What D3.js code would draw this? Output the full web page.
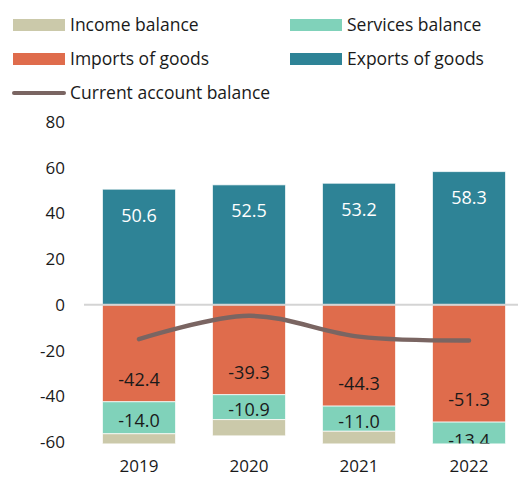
<!DOCTYPE html>
<html>
<head>
<meta charset="utf-8">
<script src="https://cdn.jsdelivr.net/npm/d3@7"></script>
<style>
  body { margin: 0; background: #fff; }
  svg { display: block; font-family: "Open Sans", sans-serif; }
</style>
</head>
<body>
<div class="canvas"></div>
<script>
// chart data
const years = ['2019', '2020', '2021', '2022'];
const exportsGoods = [50.6, 52.5, 53.2, 58.3];
const importsGoods = [-42.4, -39.3, -44.3, -51.3];
const servicesBal = [-14.0, -10.9, -11.0, -13.4];
const incomeBal = [-9.2, -7.1, -11.8, -9.2];
const currentAcc = [-15.0, -4.8, -13.9, -15.6];
const yTicks = [80, 60, 40, 20, 0, -20, -40, -60];

const dims = { width: 518, height: 477 };
const plot = { left: 84, right: 524, top: 122, bottom: 442 };

const svg = d3.select('.canvas')
    .append('svg')
    .attr('width', dims.width)
    .attr('height', dims.height);

const x = d3.scaleBand()
    .domain(years)
    .range([plot.left, plot.right])
    .paddingInner(0.336)
    .paddingOuter(0.168);

const y = d3.scaleLinear()
    .domain([-60, 80])
    .range([plot.bottom, plot.top]);

// series stacked away from zero, in drawing order
const series = [
    { name: 'Exports of goods', vals: exportsGoods, color: '#2e8396', text: '#ffffff', pos: 'topIn' },
    { name: 'Imports of goods', vals: importsGoods, color: '#df6c4c', text: '#1a1a1a', pos: 'bottomIn' },
    { name: 'Services balance', vals: servicesBal, color: '#80d2ba', text: '#1a1a1a', pos: 'mid' },
    { name: 'Income balance', vals: incomeBal, color: '#cbc9aa', text: null, pos: null }
];

// compute stacked segments
const segs = [];
years.forEach((yr, i) => {
    let posBase = 0, negBase = 0;
    series.forEach(s => {
        const v = s.vals[i];
        let y0, y1;
        if (v >= 0) { y0 = posBase; y1 = posBase + v; posBase = y1; }
        else { y0 = negBase; y1 = negBase + v; negBase = y1; }
        segs.push({ yr, v, y0, y1, s });
    });
});

svg.append('clipPath').attr('id', 'plotClip')
  .append('rect')
    .attr('x', 0).attr('y', 0)
    .attr('width', dims.width)
    .attr('height', plot.bottom + 1.5);

const graph = svg.append('g').attr('clip-path', 'url(#plotClip)');

// y tick labels
svg.append('g')
  .selectAll('text')
  .data(yTicks)
  .join('text')
    .attr('x', 65)
    .attr('y', d => y(d))
    .attr('dy', '0.35em')
    .attr('text-anchor', 'end')
    .attr('font-size', 17)
    .attr('fill', '#1a1a1a')
    .text(d => d);

// bars
graph.selectAll('rect.seg')
  .data(segs)
  .join('rect')
    .attr('class', 'seg')
    .attr('x', d => x(d.yr))
    .attr('width', x.bandwidth())
    .attr('y', d => y(Math.max(d.y0, d.y1)))
    .attr('height', d => Math.abs(y(d.y0) - y(d.y1)))
    .attr('fill', d => d.s.color)
    .attr('stroke', 'rgba(255,255,255,0.7)')
    .attr('stroke-width', 1);

// zero line
svg.append('line')
    .attr('x1', plot.left).attr('x2', dims.width)
    .attr('y1', y(0)).attr('y2', y(0))
    .attr('stroke', '#d4d4d4')
    .attr('stroke-width', 2);

// current account line
const line = d3.line()
    .x((d, i) => x(years[i]) + x.bandwidth() / 2)
    .y(d => y(d))
    .curve(d3.curveCatmullRom.alpha(0.5));

graph.append('path')
    .datum(currentAcc)
    .attr('d', line)
    .attr('fill', 'none')
    .attr('stroke', '#7a6562')
    .attr('stroke-width', 4.5)
    .attr('stroke-linecap', 'round');

// data labels
graph.selectAll('text.lbl')
  .data(segs.filter(d => d.s.pos))
  .join('text')
    .attr('class', 'lbl')
    .attr('x', d => x(d.yr) + x.bandwidth() / 2)
    .attr('y', d => {
        if (d.s.pos === 'topIn') return y(d.y1) + 26;
        if (d.s.pos === 'bottomIn') return y(d.y1) - 22;
        return y((d.y0 + d.y1) / 2) + 3;
    })
    .attr('dy', '0.35em')
    .attr('text-anchor', 'middle')
    .attr('font-size', 18)
    .attr('fill', d => d.s.text)
    .text(d => d.v.toFixed(1));

// x labels
svg.append('g')
  .selectAll('text')
  .data(years)
  .join('text')
    .attr('x', d => x(d) + x.bandwidth() / 2)
    .attr('y', 466)
    .attr('dy', '0.35em')
    .attr('text-anchor', 'middle')
    .attr('font-size', 17)
    .attr('fill', '#1a1a1a')
    .text(d => d);

// legend
const legendItems = [
    { name: 'Income balance', color: '#cbc9aa', type: 'box', col: 0, row: 0 },
    { name: 'Services balance', color: '#80d2ba', type: 'box', col: 1, row: 0 },
    { name: 'Imports of goods', color: '#df6c4c', type: 'box', col: 0, row: 1 },
    { name: 'Exports of goods', color: '#2e8396', type: 'box', col: 1, row: 1 },
    { name: 'Current account balance', color: '#7a6562', type: 'line', col: 0, row: 2 }
];

const leg = svg.append('g')
  .selectAll('g')
  .data(legendItems)
  .join('g')
    .attr('transform', d => `translate(${13 + d.col * 277}, ${25 + d.row * 34})`);

leg.filter(d => d.type === 'box').append('rect')
    .attr('x', 0).attr('y', -6)
    .attr('width', 52).attr('height', 12)
    .attr('fill', d => d.color);

leg.filter(d => d.type === 'line').append('line')
    .attr('x1', 1).attr('x2', 51)
    .attr('y1', 0).attr('y2', 0)
    .attr('stroke', d => d.color)
    .attr('stroke-width', 4)
    .attr('stroke-linecap', 'round');

leg.append('text')
    .attr('x', 57)
    .attr('dy', '0.35em')
    .attr('font-size', 17.5)
    .attr('fill', '#1a1a1a')
    .text(d => d.name);
</script>
</body>
</html>
